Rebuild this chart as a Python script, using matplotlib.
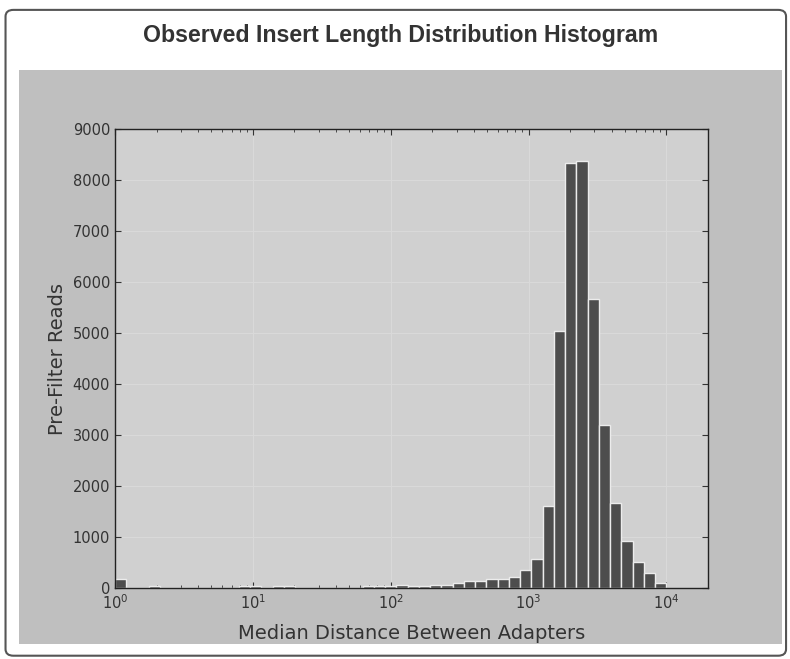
import numpy as np
import matplotlib
matplotlib.use("Agg")
import matplotlib.pyplot as plt
from matplotlib.patches import FancyBboxPatch, Rectangle

# log-spaced bins, 49 bars from 10^0 to 10^4
bin_edges = np.logspace(0, 4, 50)
read_counts = [
    170, 0, 0, 40, 0, 0, 0, 0, 0, 0,
    0, 40, 40, 10, 40, 40, 0, 0, 0, 0,
    0, 0, 40, 40, 45, 65, 35, 35, 65, 65,
    105, 135, 135, 170, 180, 225, 345, 570, 1600, 5040,
    8330, 8370, 5670, 3200, 1670, 930, 515, 295, 105,
]
y_ticks = [0, 1000, 2000, 3000, 4000, 5000, 6000, 7000, 8000, 9000]

fig = plt.figure(figsize=(7.9, 6.59), dpi=100)
fig.patch.set_facecolor("white")

# panel frame and the grey plot area behind the axes
fig.patches.append(FancyBboxPatch((0.007, 0.005), 0.988, 0.98,
                                  boxstyle="round,pad=0,rounding_size=0.01",
                                  transform=fig.transFigure, facecolor="white",
                                  edgecolor="#555555", linewidth=1.5, zorder=-3))
fig.patches.append(Rectangle((0.024, 0.0228), 0.966, 0.871,
                             transform=fig.transFigure, facecolor="#bfbfbf",
                             edgecolor="none", zorder=-2))

fig.text(0.507, 0.946, "Observed Insert Length Distribution Histogram",
         ha="center", va="center", fontsize=16.7, fontweight="bold",
         family="Liberation Sans", color="#333333")

ax = fig.add_axes([0.1456, 0.1077, 0.7506, 0.6965])
ax.set_facecolor("#d0d0d0")
ax.hist(bin_edges[:-1], bins=bin_edges, weights=read_counts,
        color="#4d4d4d", edgecolor="#ececec", linewidth=1.0, zorder=2)

ax.set_xscale("log")
ax.set_xlim(1, 2e4)
ax.set_ylim(0, 9000)
ax.set_yticks(y_ticks)
ax.grid(True, which="major", color="#d9d9d9", linewidth=0.8, zorder=0)
ax.set_axisbelow(True)

ax.tick_params(which="both", direction="in", top=True, right=True,
               colors="#333333", labelsize=10.5)
ax.tick_params(which="major", length=4)
ax.tick_params(which="minor", length=2)
for s in ax.spines.values():
    s.set_color("#222222")
    s.set_linewidth(1.0)

ax.set_xlabel("Median Distance Between Adapters", fontsize=14, color="#333333",
              labelpad=9)
ax.set_ylabel("Pre-Filter Reads", fontsize=14, color="#333333")

fig.savefig("out.png", dpi=100)
